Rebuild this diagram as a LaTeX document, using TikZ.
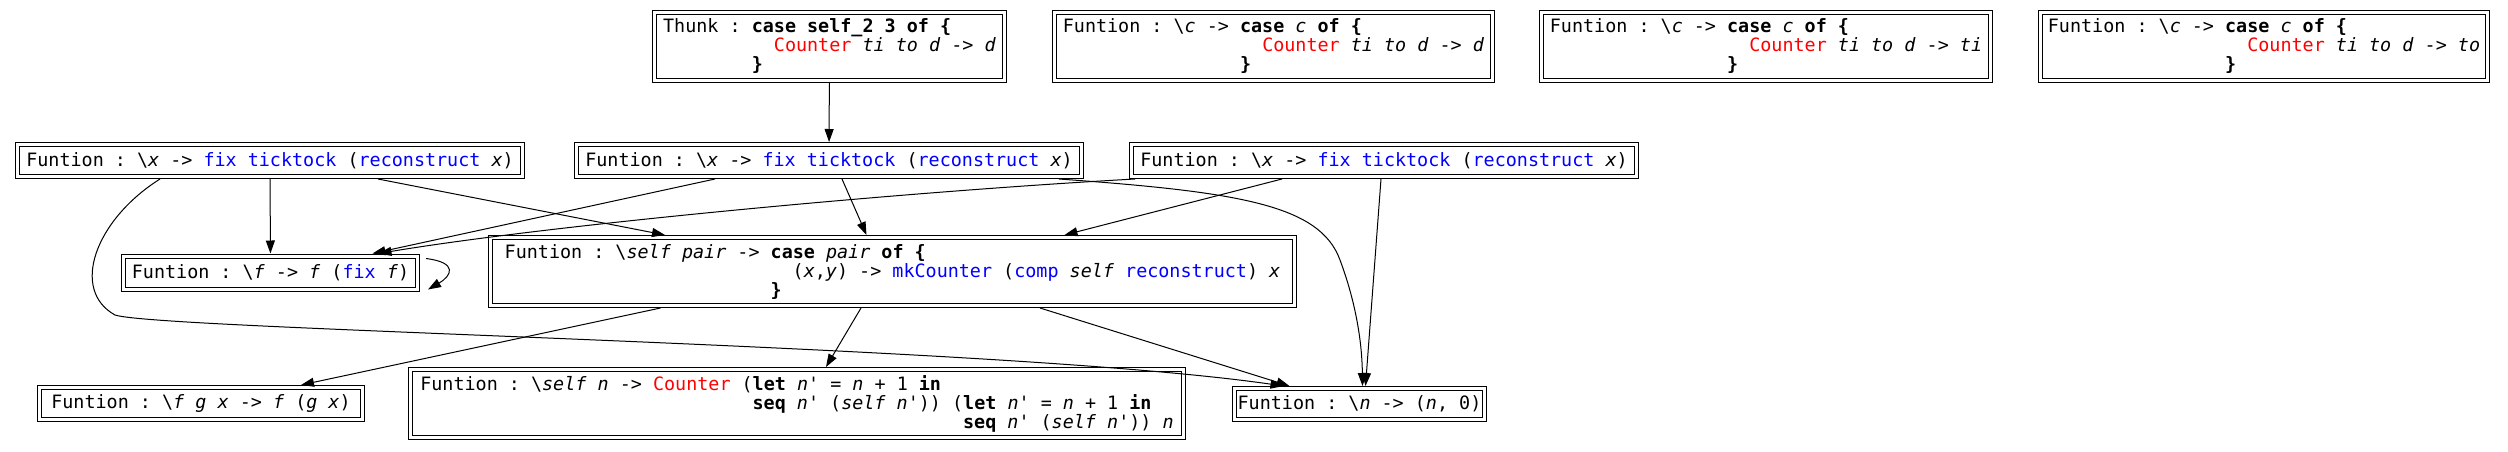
\documentclass[tikz,border=0pt]{standalone}
\usepackage{fontspec}
\setmonofont{DejaVu Sans Mono}
\usetikzlibrary{arrows.meta}
\newcommand\kw[1]{\textbf{#1}}
\newcommand\vv[1]{\textit{#1}}
\newcommand\cred[1]{\textcolor{red}{#1}}
\newcommand\cblu[1]{\textcolor{blue}{#1}}
\newcommand\cind[1]{\hspace*{#1\fontcharwd\font`M}}
\begin{document}
\begin{tikzpicture}[x=0.5pt,y=-0.5pt,
  box/.style 2 args={draw, double, double distance=1.5pt, line width=0.5pt, inner sep=0pt, outer sep=1.25pt, align=left,
    font=\ttfamily\frenchspacing\fontsize{9.2pt}{9.5pt}\selectfont,
    minimum width=#1*0.5pt-2.5pt, minimum height=#2*0.5pt-2.5pt},
  conn/.style={draw, line width=0.5pt, -{Triangle[length=6.5pt,width=4.5pt]}}]
\fill[white] (0,0) rectangle (2508,451);
\useasboundingbox (0,0) rectangle (2508,451);

\node[box={355}{73}] (thunk) at (829.5,46.5) {Thunk : \kw{case self\_2 3 of \{}\\
\cind{10}\cred{Counter} \vv{ti} \vv{to} \vv{d} -> \vv{d}\\
\cind{8}\kw{\}}};
\node[box={443}{73}] (cd) at (1273.5,46.5) {Funtion : \textbackslash\vv{c} -> \kw{case} \vv{c} \kw{of \{}\\
\cind{18}\cred{Counter} \vv{ti} \vv{to} \vv{d} -> \vv{d}\\
\cind{16}\kw{\}}};
\node[box={454}{73}] (cti) at (1766,46.5) {Funtion : \textbackslash\vv{c} -> \kw{case} \vv{c} \kw{of \{}\\
\cind{18}\cred{Counter} \vv{ti} \vv{to} \vv{d} -> \vv{ti}\\
\cind{16}\kw{\}}};
\node[box={452}{73}] (cto) at (2264,46.5) {Funtion : \textbackslash\vv{c} -> \kw{case} \vv{c} \kw{of \{}\\
\cind{18}\cred{Counter} \vv{ti} \vv{to} \vv{d} -> \vv{to}\\
\cind{16}\kw{\}}};

\node[box={510}{37}] (A) at (270,160.5) {Funtion : \textbackslash\vv{x} -> \cblu{fix} \cblu{ticktock} (\cblu{reconstruct} \vv{x})};
\node[box={510}{37}] (B) at (829,160.5) {Funtion : \textbackslash\vv{x} -> \cblu{fix} \cblu{ticktock} (\cblu{reconstruct} \vv{x})};
\node[box={510}{37}] (C) at (1384,160.5) {Funtion : \textbackslash\vv{x} -> \cblu{fix} \cblu{ticktock} (\cblu{reconstruct} \vv{x})};

\node[box={299}{38}] (fixf) at (270.5,272.5) {Funtion : \textbackslash\vv{f} -> \vv{f} (\cblu{fix} \vv{f})};
\node[box={809}{73}] (selfpair) at (892.5,271.5) {Funtion : \textbackslash\vv{self} \vv{pair} -> \kw{case} \vv{pair} \kw{of \{}\\
\cind{26}(\vv{x},\vv{y}) -> \cblu{mkCounter} (\cblu{comp} \vv{self} \cblu{reconstruct}) \vv{x}\\
\cind{24}\kw{\}}};

\node[box={328}{37}] (fgx) at (201,403.5) {Funtion : \textbackslash\vv{f} \vv{g} \vv{x} -> \vv{f} (\vv{g} \vv{x})};
\node[box={778}{73}] (selfn) at (797,403.5) {Funtion : \textbackslash\vv{self} \vv{n} -> \cred{Counter} (\kw{let} \vv{n}' = \vv{n} + 1 \kw{in}\\
\cind{30}\kw{seq} \vv{n}' (\vv{self} \vv{n}')) (\kw{let} \vv{n}' = \vv{n} + 1 \kw{in}\\
\cind{49}\kw{seq} \vv{n}' (\vv{self} \vv{n}')) \vv{n}};
\node[box={255}{36}] (nbox) at (1359.5,404) {Funtion : \textbackslash\vv{n} -> (\vv{n}, 0)};

\draw[conn] (thunk) -- (B);
\draw[conn] (A) -- (fixf);
\draw[conn] ([xshift=54pt]A.south) -- ([xshift=-113.75pt]selfpair.north);
\draw[conn] ([xshift=-55pt]A.south) .. controls (95,220) and (70,290) .. (115,315) .. controls (160,330) and (1000,345) .. ([xshift=-38pt]nbox.north);
\draw[conn] ([xshift=-57pt]B.south) -- ([xshift=51pt]fixf.north);
\draw[conn] ([xshift=6.5pt]B.south) -- ([xshift=-13pt]selfpair.north);
\draw[conn] ([xshift=115pt]B.south) .. controls (1240,192) and (1320,205) .. (1340,260) .. controls (1355,300) and (1362,340) .. ([xshift=1.5pt]nbox.north);
\draw[conn] ([xshift=3pt]C.south west) .. controls (900,192) and (550,225) .. ([xshift=54pt]fixf.north);
\draw[conn] ([xshift=-51pt]C.south) -- ([xshift=86pt]selfpair.north);
\draw[conn] ([xshift=-1.5pt]C.south) -- ([xshift=3pt]nbox.north);
\draw[conn] ([xshift=3pt,yshift=7pt]fixf.east) .. controls +(16pt,-2pt) and +(12pt,7pt) .. ([xshift=4pt,yshift=-8.5pt]fixf.east);
\draw[conn] ([xshift=-116pt]selfpair.south) -- ([xshift=50pt]fgx.north);
\draw[conn] ([xshift=-15.75pt]selfpair.south) -- ([xshift=14.5pt]selfn.north);
\draw[conn] ([xshift=73.75pt]selfpair.south) -- ([xshift=-35pt]nbox.north);
\end{tikzpicture}
\end{document}
